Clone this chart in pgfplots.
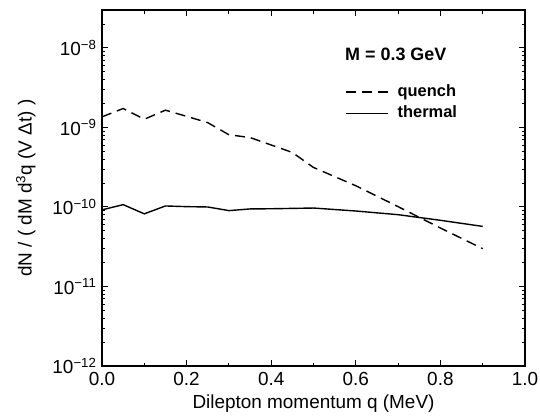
\documentclass[border=0pt]{standalone}
\usepackage{pgfplots}
\pgfplotsset{compat=1.18}
\usepackage{fontspec}
\setmainfont{Liberation Sans}

\pgfplotstableread{
q     quench    thermal
0.00  1.36e-9   9.2e-11
0.05  1.73e-9   1.07e-10
0.10  1.27e-9   8.2e-11
0.15  1.65e-9   1.03e-10
0.20  1.38e-9   1.01e-10
0.25  1.15e-9   1.00e-10
0.30  8.1e-10   9.0e-11
0.35  7.47e-10  9.45e-11
0.40  6.02e-10  9.5e-11
0.45  4.85e-10  9.6e-11
0.50  3.14e-10  9.7e-11
0.60  1.85e-10  8.9e-11
0.70  1.01e-10  8.0e-11
0.80  5.44e-11  6.8e-11
0.90  2.99e-11  5.7e-11
}\rates

\begin{document}
\begin{tikzpicture}
\path[use as bounding box] (-102bp,-50bp) rectangle (438bp,366bp);
\begin{axis}[
  at={(0,0)}, anchor=south west,
  scale only axis, width=423bp, height=356bp,
  xmin=0, xmax=1,
  ymode=log, ymin=1e-12, ymax=3e-8,
  xtick={0,0.2,0.4,0.6,0.8,1.0},
  xticklabels={0.0,0.2,0.4,0.6,0.8,1.0},
  minor xtick={0.1,0.3,0.5,0.7,0.9},
  ytick={1e-12,1e-11,1e-10,1e-9,1e-8},
  yticklabels={10\textsuperscript{−12},10\textsuperscript{−11},10\textsuperscript{−10},10\textsuperscript{−9},10\textsuperscript{−8}},
  minor ytick={2e-12,3e-12,4e-12,5e-12,6e-12,7e-12,8e-12,9e-12,
               2e-11,3e-11,4e-11,5e-11,6e-11,7e-11,8e-11,9e-11,
               2e-10,3e-10,4e-10,5e-10,6e-10,7e-10,8e-10,9e-10,
               2e-9,3e-9,4e-9,5e-9,6e-9,7e-9,8e-9,9e-9,
               2e-8,3e-8},
  tick align=inside,
  major tick length=6bp, minor tick length=3.5bp,
  every tick/.style={black, line width=1bp},
  axis line style={line width=1.5bp},
  tick label style={font=\fontsize{19}{21}\selectfont},
  xticklabel style={yshift=-3bp},
  yticklabel style={xshift=-2bp},
  label style={font=\fontsize{19}{21}\selectfont},
  xlabel={Dilepton momentum q (MeV)},
  xlabel style={at={(axis description cs:0.5,-0.107)}, anchor=center},
  ylabel={dN / ( dM d\textsuperscript{3}q (V Δt) )},
  ylabel style={at={(axis description cs:-0.18,0.5)}, anchor=center},
  legend style={at={(axis description cs:0.5745,0.792)}, anchor=north west,
    draw=none, fill=none, inner sep=0pt, column sep=9bp, row sep=6bp,
    font=\bfseries\fontsize{16.5}{18}\selectfont,
    nodes={inner sep=0pt, text height=12bp, text depth=3.5bp}},
  legend cell align=left,
  legend image code/.code={\draw[#1] (0bp,0bp) -- (42bp,0bp);},
]
\addplot[black, line width=1.4bp, dash pattern=on 10bp off 6bp] table[x=q, y=quench] {\rates};
\addlegendentry{quench}
\addplot[black, line width=1.4bp] table[x=q, y=thermal] {\rates};
\addlegendentry{thermal}
\node[anchor=west, inner sep=0pt, font=\bfseries\fontsize{18}{20}\selectfont]
  at (axis description cs:0.5745,0.876) {M = 0.3 GeV};
\end{axis}
\end{tikzpicture}
\end{document}
